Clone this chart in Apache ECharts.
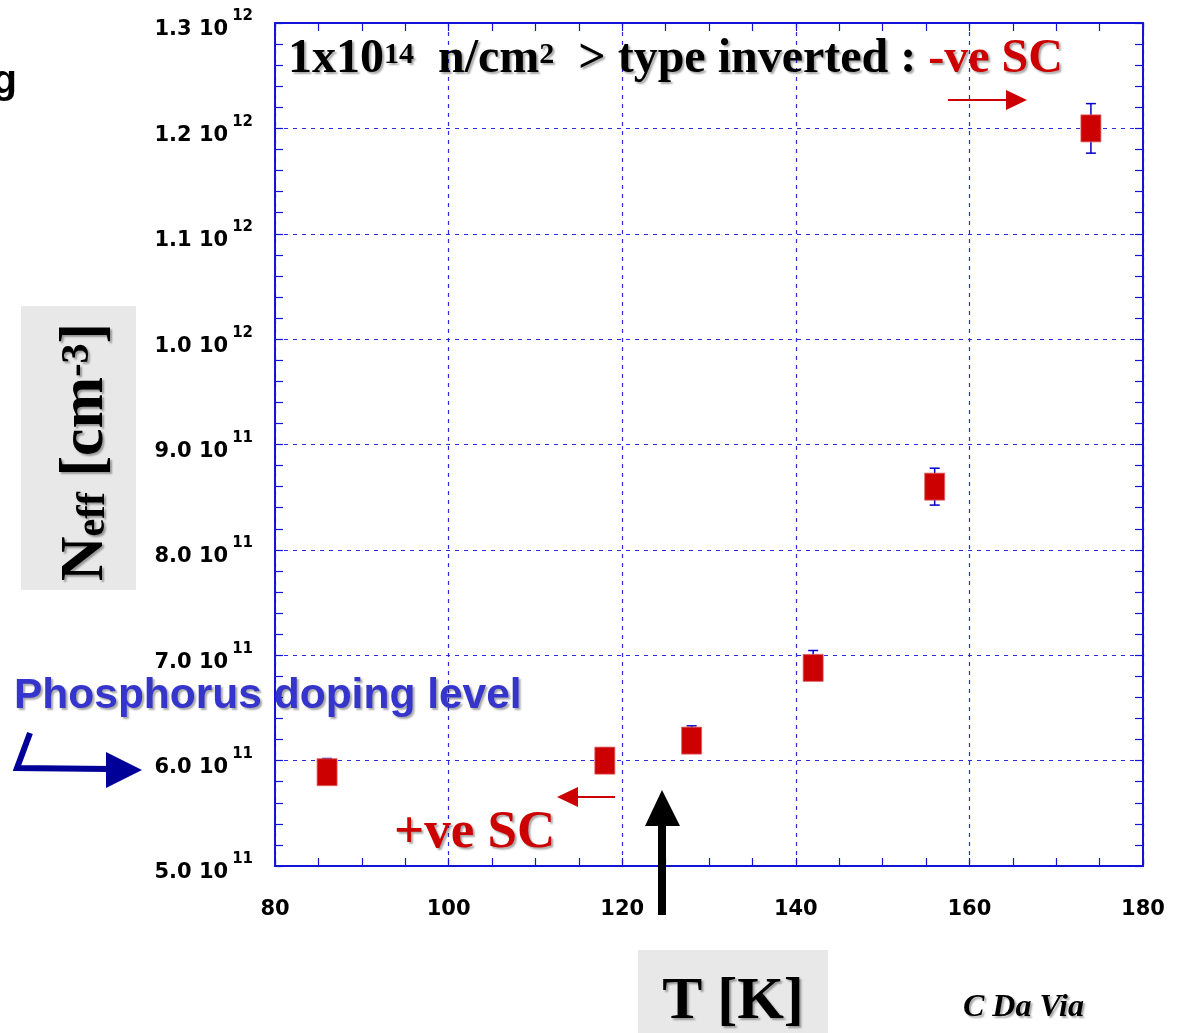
<!DOCTYPE html>
<html>
<head>
<meta charset="utf-8">
<script src="https://cdn.jsdelivr.net/npm/echarts@6/dist/echarts.min.js"></script>
<style>
html,body{margin:0;padding:0;background:#fff;}
#echarts{width:1181px;height:1033px;}
</style>
</head>
<body>
<div id="echarts"></div>
<script>
// data
var temps   = [86, 118, 128, 142, 156, 174];                       // T [K]
var neff    = [5.89e11, 6.0e11, 6.19e11, 6.88e11, 8.6e11, 1.2e12];  // N_eff [cm^-3]
var errUp   = [0.13e11, 0.12e11, 0.14e11, 0.165e11, 0.175e11, 0.235e11];
var errDown = [0.10e11, 0.10e11, 0.10e11, 0.10e11, 0.175e11, 0.235e11];
var xMin = 80, xMax = 180, xStep = 20;
var yMin = 5e11, yMax = 1.3e12, yStep = 1e11;

var frameColor = '#1414d8';
var gridColor = '#2b2be0';
var shadow = {textShadowColor: 'rgba(0,0,0,0.35)', textShadowOffsetX: 2, textShadowOffsetY: 2, textShadowBlur: 2};

function yLabel(v){
    var m = Math.round(v / 1e10); // 50 .. 130
    if (m >= 100) return '{a|' + (m / 100).toFixed(1) + ' 10}{s|12}';
    return '{a|' + (m / 10).toFixed(1) + ' 10}{s|11}';
}

var errData = temps.map(function(t, i){ return [t, neff[i] - errDown[i], neff[i] + errUp[i]]; });
var ptData = temps.map(function(t, i){ return [t, neff[i]]; });

function sideAxis(extra){
    var base = {
        axisLine: {show: true, onZero: false, lineStyle: {color: frameColor, width: 2}},
        axisTick: {show: true, inside: true, length: 8, lineStyle: {color: frameColor, width: 1.2}},
        minorTick: {show: true, length: 8, lineStyle: {color: frameColor, width: 1.2}},
        axisLabel: {show: false},
        splitLine: {show: false}
    };
    for (var k in extra) base[k] = extra[k];
    return base;
}

var myChart = echarts.init(document.getElementById('echarts'));
var option = {
    backgroundColor: '#fff',
    animation: false,
    grid: {left: 275, right: 38, top: 23, bottom: 167},
    xAxis: [
        sideAxis({
            type: 'value', min: xMin, max: xMax, interval: xStep, position: 'bottom',
            minorTick: {show: true, splitNumber: 4, length: 8, lineStyle: {color: frameColor, width: 1.2}},
            axisLabel: {show: true, margin: 33, fontFamily: 'DejaVu Sans', fontWeight: 'bold', fontSize: 21, color: '#000'},
            splitLine: {show: true, lineStyle: {color: gridColor, type: [4, 5], width: 1.2}}
        }),
        sideAxis({
            type: 'value', min: xMin, max: xMax, interval: xStep, position: 'top',
            minorTick: {show: true, splitNumber: 4, length: 8, lineStyle: {color: frameColor, width: 1.2}}
        })
    ],
    yAxis: [
        sideAxis({
            type: 'value', min: yMin, max: yMax, interval: yStep, position: 'left',
            minorTick: {show: true, splitNumber: 5, length: 8, lineStyle: {color: frameColor, width: 1.2}},
            axisLabel: {
                show: true, margin: 22, formatter: yLabel, padding: [6, 0, 0, 0],
                rich: {
                    a: {fontFamily: 'DejaVu Sans', fontWeight: 'bold', fontSize: 21, color: '#000', lineHeight: 34, padding: [8, 0, 0, 0]},
                    s: {fontFamily: 'DejaVu Sans', fontWeight: 'bold', fontSize: 15, color: '#000', verticalAlign: 'top', padding: [0, 0, 0, 4]}
                }
            },
            splitLine: {show: true, lineStyle: {color: gridColor, type: [4, 5], width: 1.2}}
        }),
        sideAxis({
            type: 'value', min: yMin, max: yMax, interval: yStep, position: 'right',
            minorTick: {show: true, splitNumber: 5, length: 8, lineStyle: {color: frameColor, width: 1.2}}
        })
    ],
    series: [
        {
            name: 'err',
            type: 'custom',
            z: 3,
            data: errData,
            renderItem: function(params, api){
                var x = api.value(0);
                var lo = api.coord([x, api.value(1)]);
                var hi = api.coord([x, api.value(2)]);
                var cap = 5;
                var st = {stroke: '#0000cc', lineWidth: 1.5};
                return {
                    type: 'group',
                    children: [
                        {type: 'line', shape: {x1: lo[0], y1: lo[1], x2: hi[0], y2: hi[1]}, style: st},
                        {type: 'line', shape: {x1: lo[0] - cap, y1: lo[1], x2: lo[0] + cap, y2: lo[1]}, style: st},
                        {type: 'line', shape: {x1: hi[0] - cap, y1: hi[1], x2: hi[0] + cap, y2: hi[1]}, style: st}
                    ]
                };
            }
        },
        {
            name: 'Neff',
            type: 'scatter',
            z: 4,
            symbol: 'rect',
            symbolSize: [20, 27],
            itemStyle: {color: '#cc0000', opacity: 1, borderColor: '#e06060', borderWidth: 0.8},
            data: ptData
        }
    ],
    graphic: [
        // leftover letter from the slide edge
        {type: 'text', x: -8, y: 82, style: {text: 'g', font: 'bold 41px "Liberation Sans"', fill: '#000', verticalAlign: 'middle'}},
        // title
        {
            type: 'text', x: 288, y: 60, z: 10,
            style: {
                text: '{b|1x10}{s|14}{b|  n/cm}{s|2}{b|  > type inverted : }{r|-ve SC}',
                verticalAlign: 'middle',
                rich: {
                    b: Object.assign({fontFamily: 'Liberation Serif', fontWeight: 'bold', fontSize: 48, fill: '#000', lineHeight: 40}, shadow),
                    s: Object.assign({fontFamily: 'Liberation Serif', fontWeight: 'bold', fontSize: 30, fill: '#000', verticalAlign: 'top'}, shadow),
                    r: Object.assign({fontFamily: 'Liberation Serif', fontWeight: 'bold', fontSize: 48, fill: '#cc0000', lineHeight: 40}, shadow)
                }
            }
        },
        {type: 'line', z: 10, shape: {x1: 948, y1: 100, x2: 1010, y2: 100}, style: {stroke: '#cc0000', lineWidth: 2}},
        {type: 'polygon', z: 10, shape: {points: [[1006, 90], [1027, 100], [1006, 110]]}, style: {fill: '#cc0000'}},
        // phosphorus doping annotation
        {
            type: 'text', x: 14, y: 696, z: 10,
            style: Object.assign({text: 'Phosphorus doping level', font: 'bold 42.5px "Liberation Sans"', fill: '#3535cc', verticalAlign: 'middle'}, shadow)
        },
        {type: 'polyline', z: 10, shape: {points: [[30, 733], [17, 768], [110, 769]]}, style: {stroke: '#000099', lineWidth: 6, fill: null}},
        {type: 'polygon', z: 10, shape: {points: [[106, 752], [142, 770], [106, 788]]}, style: {fill: '#000099'}},
        // +ve SC
        {
            type: 'text', x: 394, y: 833, z: 10,
            style: Object.assign({text: '+ve SC', font: 'bold 53px "Liberation Serif"', fill: '#cc0000', verticalAlign: 'middle'}, shadow)
        },
        {type: 'line', z: 10, shape: {x1: 577, y1: 797, x2: 615, y2: 797}, style: {stroke: '#cc0000', lineWidth: 2}},
        {type: 'polygon', z: 10, shape: {points: [[578, 787], [557, 797], [578, 807]]}, style: {fill: '#cc0000'}},
        // black arrow
        {type: 'rect', z: 10, shape: {x: 658, y: 824, width: 8, height: 91}, style: {fill: '#000'}},
        {type: 'polygon', z: 10, shape: {points: [[645, 826], [662, 790], [680, 826]]}, style: {fill: '#000'}},
        // x axis title
        {type: 'rect', z: 9, shape: {x: 638, y: 950, width: 190, height: 90}, style: {fill: '#e8e8e8'}},
        {
            type: 'text', x: 733, y: 1002, z: 10,
            style: Object.assign({text: 'T [K]', font: 'bold 60px "Liberation Serif"', fill: '#000', align: 'center', verticalAlign: 'middle'}, shadow)
        },
        // y axis title
        {type: 'rect', z: 9, shape: {x: 21, y: 306, width: 115, height: 284}, style: {fill: '#e8e8e8'}},
        {
            type: 'text', x: 86, y: 452, z: 10, rotation: Math.PI / 2,
            style: {
                text: '{b|N}{d|eff}{b| [cm}{u|-3}{b|]}',
                align: 'center', verticalAlign: 'middle',
                rich: {
                    b: Object.assign({fontFamily: 'Liberation Serif', fontWeight: 'bold', fontSize: 62, fill: '#000', lineHeight: 56}, shadow),
                    d: Object.assign({fontFamily: 'Liberation Serif', fontWeight: 'bold', fontSize: 40, fill: '#000', verticalAlign: 'bottom'}, shadow),
                    u: Object.assign({fontFamily: 'Liberation Serif', fontWeight: 'bold', fontSize: 40, fill: '#000', verticalAlign: 'top'}, shadow)
                }
            }
        },
        // credit
        {
            type: 'text', x: 963, y: 1008, z: 10,
            style: Object.assign({text: 'C Da Via', font: 'italic bold 32px "Liberation Serif"', fill: '#000', verticalAlign: 'middle'}, shadow)
        }
    ]
};
myChart.setOption(option);
</script>
</body>
</html>
